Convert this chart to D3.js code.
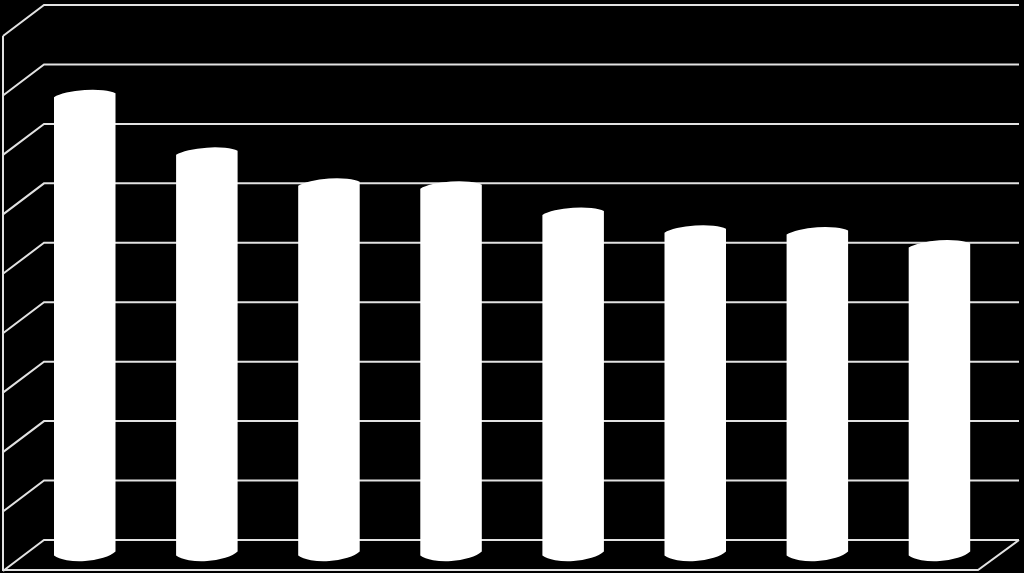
<!DOCTYPE html>
<html>
<head>
<meta charset="utf-8">
<script src="https://cdn.jsdelivr.net/npm/d3@7"></script>
<style>html,body{margin:0;padding:0;background:#000}svg{display:block}</style>
</head>
<body>
<svg id="c" width="1024" height="573"></svg>
<script>
const categories = ["1","2","3","4","5","6","7","8"];
const values = [7.71, 6.74, 6.22, 6.17, 5.73, 5.43, 5.40, 5.18];
const tickValues = [0,1,2,3,4,5,6,7,8,9];

const width = 1024, height = 573;
const svg = d3.select("#c");
svg.append("rect").attr("width",width).attr("height",height).attr("fill","#000");

const backY = d3.scaleLinear().domain([0,9]).range([540,5]);
const depthX = 41, depthY = 31;
const backLeft = 44, backRight = 1019;
const gridColor = "#e2e2e2";

const grid = svg.append("g").attr("fill","none").attr("stroke",gridColor).attr("stroke-width",2);
tickValues.forEach(t=>{
  const y = backY(t);
  grid.append("path").attr("d",`M${backLeft-depthX},${y+depthY}L${backLeft},${y}L${backRight},${y}`);
});
grid.append("path").attr("d",`M${backLeft-depthX},${backY(9)+depthY}L${backLeft-depthX},${backY(0)+depthY-1}L${backRight-depthX},${backY(0)+depthY-1}L${backRight},${backY(0)}`);

const barX = d3.scaleBand().domain(categories).range([54, 54+122.1*8]).padding(0);
const barW = 61.5;
const barY = d3.scaleLinear().domain([0,9]).range([553.5,18.5]);
const rx = 34, ryTop = 9, ryBottom = 13, rot = -4;

svg.append("g").selectAll("path").data(values).join("path")
  .attr("fill","#fff")
  .attr("d",(v,i)=>{
    const x0 = barX(categories[i]), x1 = x0 + barW, yt = barY(v), yb = barY(0);
    const dy = 2;
    return `M${x0},${yt+dy}A${rx},${ryTop} ${rot} 0 1 ${x1},${yt-dy}L${x1},${yb-dy}A${rx},${ryBottom} ${rot} 0 1 ${x0},${yb+dy}Z`;
  });
</script>
</body>
</html>
